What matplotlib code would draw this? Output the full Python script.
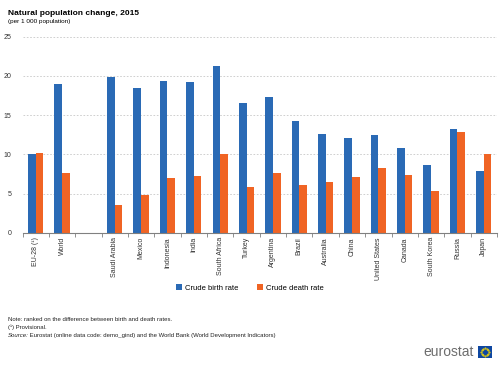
import matplotlib.pyplot as plt
import numpy as np
from matplotlib.patches import Rectangle

plt.rcParams['font.family'] = ['Liberation Sans', 'DejaVu Sans']

# Data (per 1 000 population), blank slot separates the aggregates
countries = ['EU-28 (¹)', 'World', '', 'Saudi Arabia', 'Mexico', 'Indonesia', 'India',
             'South Africa', 'Turkey', 'Argentina', 'Brazil', 'Australia', 'China',
             'United States', 'Canada', 'South Korea', 'Russia', 'Japan']
birth_rate = [10.0, 19.0, np.nan, 19.8, 18.4, 19.3, 19.2, 21.2, 16.5, 17.3, 14.3,
              12.6, 12.1, 12.4, 10.8, 8.6, 13.2, 7.9]
death_rate = [10.2, 7.6, np.nan, 3.5, 4.8, 7.0, 7.3, 10.0, 5.8, 7.6, 6.1,
              6.5, 7.1, 8.2, 7.4, 5.3, 12.9, 10.0]

blue = '#2a6ab5'
orange = '#f06424'

fig = plt.figure(figsize=(5, 3.65), dpi=100)
ax = fig.add_axes([0.045, 0.362, 0.949, 0.538])

x = np.arange(len(countries))
w = 0.29
ax.bar(x - w / 2, birth_rate, w, color=blue, label='Crude birth rate')
ax.bar(x + w / 2, death_rate, w, color=orange, label='Crude death rate')

ax.set_xlim(-0.5, len(countries) - 0.5)
ax.set_ylim(0, 25)
ax.set_yticks([0, 5, 10, 15, 20, 25])
ax.yaxis.grid(True, color='#c8c8c8', linestyle=(0, (2, 2)), linewidth=0.6)
ax.set_axisbelow(True)
for s in ['top', 'right', 'left']:
    ax.spines[s].set_visible(False)
ax.spines['bottom'].set_color('#808080')
ax.spines['bottom'].set_linewidth(0.8)

ax.set_xticks(x)
ax.set_xticklabels(countries, rotation=90, fontsize=5, color='#333333')
# category separators as ticks
ax.set_xticks(np.arange(len(countries) + 1) - 0.5, minor=True)
ax.tick_params(axis='x', which='major', length=0, pad=3)
ax.tick_params(axis='x', which='minor', length=3, color='#808080', width=0.6)
ax.tick_params(axis='y', length=0, labelsize=5, colors='#333333', pad=8)

fig.legend(loc='center', bbox_to_anchor=(0.5, 0.211), ncol=2, frameon=False,
           fontsize=5.5, handlelength=0.7, handleheight=0.7, columnspacing=2.5,
           handletextpad=0.4)

fig.text(0.016, 0.964, 'Natural population change, 2015', fontsize=6,
         fontweight='bold', va='center')
fig.text(0.016, 0.940, '(per 1 000 population)', fontsize=4.6, va='center')

fig.text(0.016, 0.126, 'Note: ranked on the difference between birth and death rates.',
         fontsize=4.3, va='center', color='#222222')
fig.text(0.016, 0.104, '(¹) Provisional.', fontsize=4.3, va='center', color='#222222')
fig.text(0.016, 0.082, 'Source:', fontsize=4.3, va='center', style='italic', color='#222222')
fig.text(0.056, 0.082, ' Eurostat (online data code: demo_gind) and the World Bank (World Development Indicators)',
         fontsize=4.3, va='center', color='#222222')

# eurostat logo
fig.text(0.948, 0.035, 'eurostat', fontsize=10, color='#6d6d6d', ha='right', va='center')
fig.patches.append(Rectangle((0.956, 0.02), 0.027, 0.032, transform=fig.transFigure,
                             facecolor='#0e47a1', edgecolor='none'))
ang = np.linspace(0, 2 * np.pi, 12, endpoint=False)
fig.add_artist(plt.Line2D(0.9695 + 0.0075 * np.cos(ang), 0.036 + 0.0103 * np.sin(ang),
                          transform=fig.transFigure, linestyle='none', marker='.',
                          markersize=1, color='#ffdd00'))

fig.savefig('out.png', dpi=100)
